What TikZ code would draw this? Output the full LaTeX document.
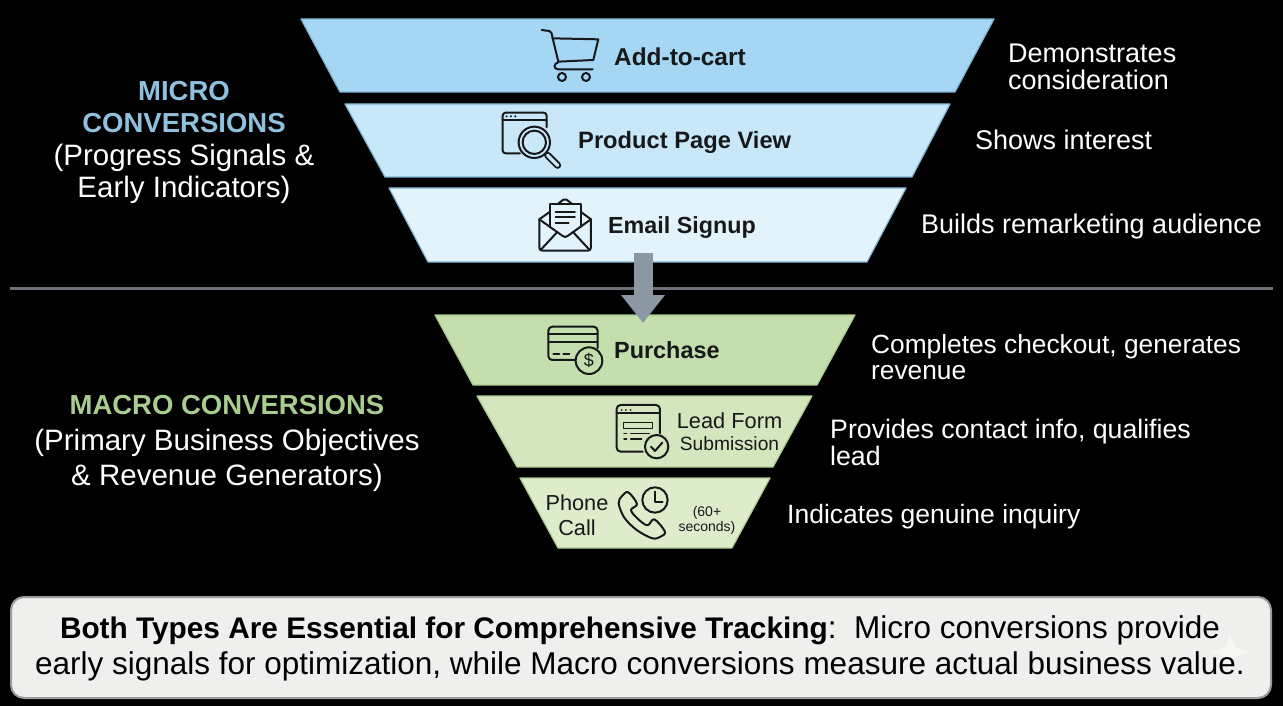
\documentclass[tikz,border=0pt]{standalone}
\usepackage{fontspec}
\setmainfont{Liberation Sans}
\usetikzlibrary{arrows.meta}
\definecolor{bandA}{HTML}{A5D6F3}
\definecolor{bandB}{HTML}{C8E7F8}
\definecolor{bandC}{HTML}{E3F3FC}
\definecolor{edgeblue}{HTML}{7FB4D2}
\definecolor{bandD}{HTML}{C4DFAD}
\definecolor{bandE}{HTML}{D3E6BE}
\definecolor{bandF}{HTML}{DDECCB}
\definecolor{edgegreen}{HTML}{A9C98F}
\definecolor{microcol}{HTML}{8FC1DF}
\definecolor{macrocol}{HTML}{A9CD8E}
\definecolor{arrowcol}{HTML}{8B98A3}
\definecolor{rulecol}{HTML}{6E7278}
\definecolor{ink}{HTML}{16181A}
\definecolor{boxfill}{HTML}{EFEFEE}
\definecolor{boxedge}{HTML}{9C9C9C}
\definecolor{sparkle}{HTML}{F7F7F6}
\tikzset{
  x=1pt,y=-1pt,
  band/.style={line width=1.2pt,line join=round},
  lab/.style={inner sep=0pt,text=white,font=\fontsize{27}{26.5}\selectfont,align=left},
  cen/.style={inner sep=0pt,text=white,align=center},
  tag/.style={inner sep=0pt,text=ink},
  ico/.style={draw=ink,line width=2pt,line join=round,line cap=round},
  zoomA/.style={shift={(290,10)},x=0.3333pt,y=-0.3333pt},
  zoomB/.style={shift={(420,250)},x=0.3333pt,y=-0.3333pt},
}
\begin{document}
\begin{tikzpicture}
\useasboundingbox (0,0) rectangle (1283,706);
\fill[black] (0,0) rectangle (1283,706);
% separator
\draw[rulecol,line width=3pt] (10,288) -- (1273,288);
% bands
\filldraw[band,fill=bandA,draw=edgeblue] (301,19) -- (994,19) -- (955,92) -- (340,92) -- cycle;
\filldraw[band,fill=bandB,draw=edgeblue] (345,104) -- (950,104) -- (912,177) -- (385,177) -- cycle;
\filldraw[band,fill=bandC,draw=edgeblue] (389,188) -- (906,188) -- (867,262) -- (428,262) -- cycle;
\filldraw[band,fill=bandD,draw=edgegreen] (435,315) -- (855,315) -- (817,385) -- (473,385) -- cycle;
\filldraw[band,fill=bandE,draw=edgegreen] (477,396) -- (812,396) -- (773,467) -- (517,467) -- cycle;
\filldraw[band,fill=bandF,draw=edgegreen] (520,478) -- (770,478) -- (732,548) -- (558,548) -- cycle;
\coordinate (emailfoot) at (643,253);
\coordinate (purchasetop) at (643,323);
\draw[arrowcol,line width=19pt,-{Triangle[length=28pt,width=42pt]}] (emailfoot) -- (purchasetop);
% band labels
\node[tag,anchor=west,font=\bfseries\fontsize{24.4}{26}\selectfont] (addtocart) at (614,57) {Add-to-cart};
\node[tag,anchor=west,font=\bfseries\fontsize{23.7}{26}\selectfont] (pageview) at (578,142) {Product Page View};
\node[tag,anchor=west,font=\bfseries\fontsize{23.3}{26}\selectfont] (email) at (608,228) {Email Signup};
\node[tag,anchor=west,font=\bfseries\fontsize{23.4}{26}\selectfont] (purchase) at (614,350.5) {Purchase};
\node[inner sep=0pt,text=ink,font=\fontsize{21.8}{23}\selectfont] (leadform) at (729.5,420.5) {Lead Form};
\node[inner sep=0pt,text=ink,font=\fontsize{19.2}{20}\selectfont] (submission) at (729.5,443.5) {Submission};
\node[inner sep=0pt,text=ink,font=\fontsize{21.7}{25}\selectfont,align=center] (phone) at (577,515) {Phone\\Call};
\node[inner sep=0pt,text=ink,font=\fontsize{14}{15}\selectfont,align=center] (sixty) at (707,520) {(60+\\seconds)};
% right notes
\node[lab,anchor=west] (n1) at (1008,67) {Demonstrates\\consideration};
\node[lab,anchor=west] (n2) at (975,140) {Shows interest};
\node[lab,anchor=west] (n3) at (921,226.5) {Builds remarketing audience};
\node[lab,anchor=west,font=\fontsize{26.3}{26.5}\selectfont] (n4) at (871,357) {Completes checkout, generates\\revenue};
\node[lab,anchor=west,font=\fontsize{26.7}{26.5}\selectfont] (n5) at (830,442.5) {Provides contact info, qualifies\\lead};
\node[lab,anchor=west,font=\fontsize{26.5}{26.5}\selectfont] (n6) at (787,516.5) {Indicates genuine inquiry};
% left headings
\node[cen,text=microcol,font=\bfseries\fontsize{27.5}{32}\selectfont] (micro) at (184,107) {MICRO\\CONVERSIONS};
\node[cen,font=\fontsize{29.5}{32}\selectfont] (microsub) at (184,173.5) {(Progress Signals \&\\Early Indicators)};
\node[cen,text=macrocol,font=\bfseries\fontsize{27.5}{32}\selectfont] (macro) at (227,405) {MACRO CONVERSIONS};
\node[cen,font=\fontsize{29.5}{35}\selectfont] (macrosub) at (227,460) {(Primary Business Objectives\\\& Revenue Generators)};
% bottom box
\filldraw[fill=boxfill,draw=boxedge,line width=2pt,rounded corners=13pt] (11,597) rectangle (1271,698);
\fill[sparkle] (1230,632) .. controls (1232,645) and (1236,650) .. (1250,652) .. controls (1236,654) and (1232,659) .. (1230,672) .. controls (1228,659) and (1224,654) .. (1210,652) .. controls (1224,650) and (1228,645) .. (1230,632) -- cycle;
\node[inner sep=0pt,text=black,font=\fontsize{31.5}{36}\selectfont,align=center] (note) at (640,648) {{\bfseries\fontsize{29.8}{36}\selectfont Both Types Are Essential for Comprehensive Tracking}:\ \ Micro conversions provide\\early signals for optimization, while Macro conversions measure actual business value.};
% cart icon
\begin{scope}[zoomA]
\draw[ico] (755,60) -- (778,63) .. controls (785,65) and (785,70) .. (787,80) -- (805,155) -- (910,150) -- (925,88) -- (787,85);
\draw[ico] (805,157) .. controls (790,160) and (790,178) .. (805,178) -- (908,178);
\draw[ico] (816,201) circle[radius=12];
\draw[ico] (888,201) circle[radius=12];
% window and lens
\draw[ico,rounded corners=3pt] (690,430) -- (638,430) -- (638,308) -- (770,308) -- (770,352);
\draw[ico] (638,331) -- (770,331);
\fill[ink] (650,319) circle[radius=3.5] (663,319) circle[radius=3.5] (676,319) circle[radius=3.5];
\draw[ico] (733,397) circle[radius=47];
\draw[ico] (733,397) circle[radius=35];
\draw[ink,line width=7pt,line cap=round] (773,436) -- (803,466);
\draw[bandB,line width=3.4pt,line cap=round] (773,436) -- (803,466);
% envelope
\draw[ico,rounded corners=3pt] (748,628) -- (748,722) -- (903,722) -- (903,628);
\draw[ico] (748,628) -- (779,606) (903,628) -- (873,606);
\draw[ico] (748,628) -- (818,678) .. controls (823,682) and (828,682) .. (833,678) -- (903,628);
\draw[ico] (752,720) -- (802,666) (899,720) -- (849,666);
\draw[ico] (779,650) -- (779,582) -- (873,582) -- (873,650);
\draw[ico,rounded corners=2pt] (805,581) -- (825,565) -- (845,581);
\draw[ico] (797,605) -- (855,605) (797,622) -- (855,622) (797,640) -- (836,640);
\end{scope}
% purchase, lead, phone icons
\begin{scope}[zoomB]
\draw[ico,rounded corners=4pt] (465,330) -- (385,330) -- (385,230) -- (533,230) -- (533,295);
\draw[ico] (385,252) -- (533,252) (385,275) -- (533,275);
\draw[ico] (400,311) -- (418,311) (430,311) -- (448,311);
\draw[ico] (507,332) circle[radius=40];
\node[inner sep=0pt,text=ink,font=\fontsize{18}{18}\selectfont] (dollar) at (507,332) {\$};
\draw[ico,rounded corners=4pt] (668,605) -- (590,605) -- (590,465) -- (720,465) -- (720,550);
\draw[ico] (590,490) -- (720,490);
\fill[ink] (605,480) circle[radius=3] (618,480) circle[radius=3] (632,480) circle[radius=3];
\draw[ico,line width=1.5pt] (611,518) rectangle (698,535);
\draw[ico,line width=1.4pt] (612,550) -- (620,550) (632,550) -- (688,550) (612,567) -- (620,567) (632,567) -- (665,567);
\draw[ico] (710,590) circle[radius=35];
\draw[ico] (693,590) -- (705,603) -- (727,578);
\draw[ico] (705,750) circle[radius=38];
\draw[ico] (705,725) -- (705,755) -- (728,755);
\draw[ico] plot[smooth cycle,tension=0.55] coordinates {(596,760) (606,738) (625,727) (651,762) (633,780) (652,805) (682,826) (703,808) (735,845) (722,860) (697,865) (650,840) (613,803)};
\end{scope}
\end{tikzpicture}
\end{document}
